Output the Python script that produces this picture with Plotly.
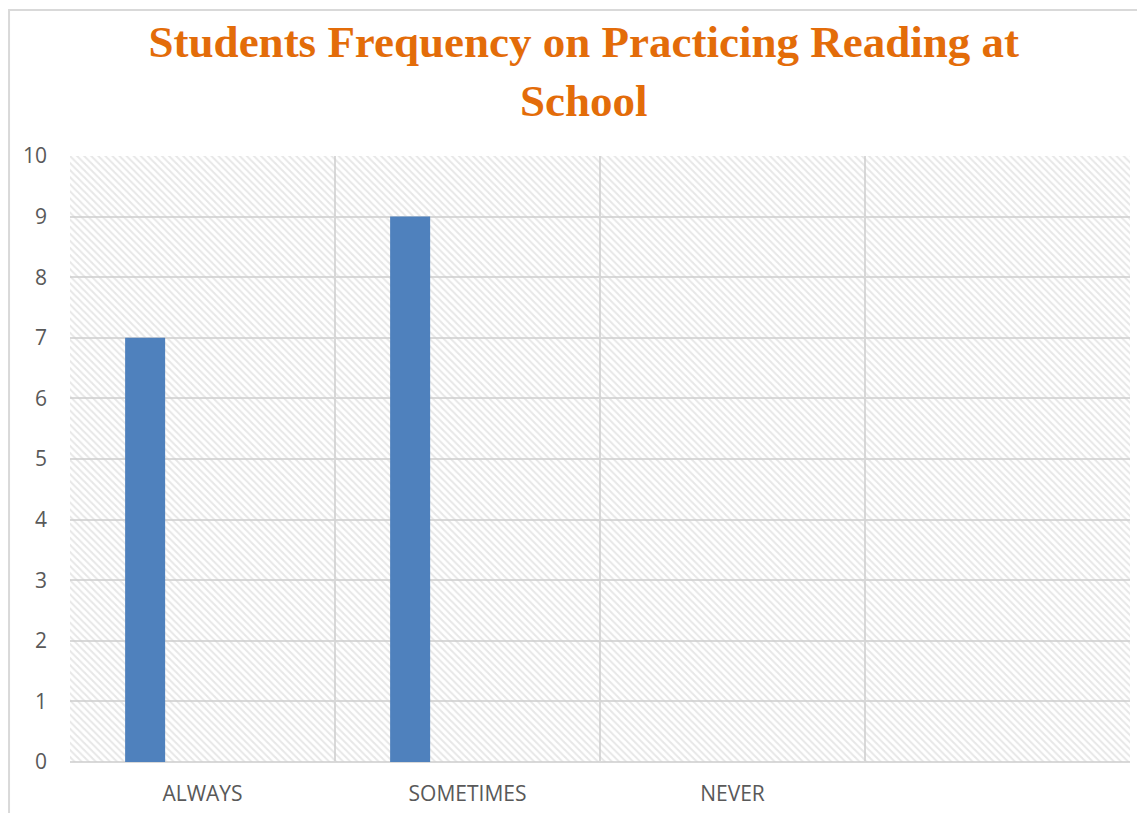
import plotly.graph_objects as go

# chart data
categories = ["ALWAYS", "SOMETIMES", "NEVER", " "]
students = [7, 9, None, None]
y_ticks = list(range(0, 11))
y_max = 10

title_text = "Students Frequency on Practicing Reading at<br>School"

fig = go.Figure()

# hatched plot-area background, one hatched block per category slot
fig.add_trace(go.Bar(
    x=categories,
    y=[y_max] * len(categories),
    width=1,
    marker=dict(
        color="rgba(0,0,0,0)",
        line=dict(width=0),
        pattern=dict(shape="\\", fgcolor="#cfcfcf", bgcolor="rgba(0,0,0,0)",
                     size=5, solidity=0.4),
    ),
    hoverinfo="skip",
    showlegend=False,
))

# the actual values
fig.add_trace(go.Bar(
    x=categories,
    y=students,
    width=0.151,
    offset=-0.292,
    marker=dict(color="#4F81BD", line=dict(width=0)),
    showlegend=False,
))

# outer chart border like the spreadsheet frame
fig.add_shape(type="rect", xref="paper", yref="paper",
              x0=-0.0575, x1=1.05, y0=-0.15, y1=1.241,
              line=dict(color="#d9d9d9", width=2), layer="below")

fig.update_layout(
    width=1129,
    height=805,
    barmode="overlay",
    paper_bgcolor="white",
    plot_bgcolor="white",
    margin=dict(l=62, r=7, t=148, b=51),
    title=dict(
        text=title_text,
        x=0.51,
        xanchor="center",
        yref="container",
        y=0.939,
        yanchor="top",
        font=dict(family="Liberation Serif", size=45, color="#E36C09", weight="bold"),
    ),
    xaxis=dict(
        type="category",
        tickson="boundaries",
        range=[-0.5, len(categories) - 0.5],
        showgrid=True,
        gridcolor="#d9d9d9",
        gridwidth=2,
        ticks="",
        showline=False,
        zeroline=False,
        ticklabelstandoff=17,
        tickfont=dict(family="Open Sans", size=21, color="#595959"),
    ),
    yaxis=dict(
        range=[0, y_max],
        tickvals=y_ticks,
        showgrid=True,
        gridcolor="#d9d9d9",
        gridwidth=2,
        zeroline=True,
        zerolinecolor="#d9d9d9",
        zerolinewidth=2,
        ticks="",
        ticklabelstandoff=22,
        tickfont=dict(family="Open Sans", size=21, color="#595959"),
    ),
)

fig.write_html("out.html")
